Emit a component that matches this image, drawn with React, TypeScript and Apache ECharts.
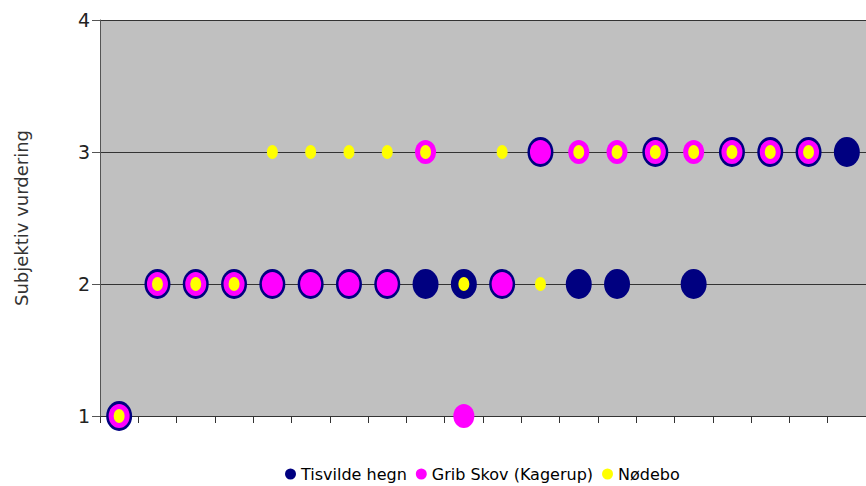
import React, { useEffect, useRef } from "react";
import * as echarts from "echarts";

const categories: string[] = [
  "1", "2", "3", "4", "5", "6", "7", "8", "9", "10",
  "11", "12", "13", "14", "15", "16", "17", "18", "19", "20",
];
const seriesNames: string[] = ["Tisvilde hegn", "Grib Skov (Kagerup)", "Nødebo"];
const tisvilde: (number | string)[] = [1, 2, 2, 2, 2, 2, 2, 2, 2, 2, 2, 3, 2, 2, 3, 2, 3, 3, 3, 3];
const gribSkov: (number | string)[] = [1, 2, 2, 2, 2, 2, 2, 2, 3, 1, 2, 3, 3, 3, 3, 3, 3, 3, 3, "-"];
const nodebo: (number | string)[] = [1, 2, 2, 2, 3, 3, 3, 3, 3, 2, 3, 2, 3, 3, 3, 3, 3, 3, 3, "-"];
const yTicks: number[] = [1, 2, 3, 4];

const ELLIPSE = "path://M0,50 A50,50 0 1,1 100,50 A50,50 0 1,1 0,50 Z";
const FONT = "DejaVu Sans";

export default function App() {
  const ref = useRef<HTMLDivElement>(null);
  useEffect(() => {
    if (!ref.current) return;
    const chart = echarts.init(ref.current, undefined, { renderer: "svg" });
    const colors = ["#000080", "#FF00FF", "#FFFF00"];
    const sizes: [number, number][] = [[26, 30], [21, 24], [11, 14]];
    const datas = [tisvilde, gribSkov, nodebo];
    chart.setOption({
      animation: false,
      textStyle: { fontFamily: FONT },
      grid: { left: 100, right: 0, top: 20, bottom: 70, containLabel: false, show: true, backgroundColor: "#C0C0C0", borderWidth: 0 },
      legend: {
        left: 280,
        top: 461,
        itemWidth: 11,
        itemHeight: 13,
        itemGap: 9,
        icon: ELLIPSE,
        textStyle: { fontFamily: FONT, fontSize: 16, color: "#000" },
        data: seriesNames,
      },
      xAxis: {
        type: "category",
        data: categories,
        boundaryGap: true,
        axisLine: { show: true, lineStyle: { color: "#333", width: 1 } },
        axisTick: { show: true, length: 7, lineStyle: { color: "#333" } },
        axisLabel: { show: false },
        splitLine: { show: false },
      },
      yAxis: {
        type: "value",
        min: yTicks[0],
        max: yTicks[yTicks.length - 1],
        interval: 1,
        name: "Subjektiv vurdering",
        nameLocation: "middle",
        nameRotate: 90,
        nameGap: 70,
        nameTextStyle: { fontFamily: FONT, fontSize: 18, color: "#333" },
        axisLine: { show: true, lineStyle: { color: "#555", width: 1 } },
        axisTick: { show: true, length: 8, lineStyle: { color: "#555" } },
        axisLabel: { fontFamily: FONT, fontSize: 19, color: "#222", margin: 10 },
        splitLine: { show: true, lineStyle: { color: "#333", width: 1 } },
      },
      series: seriesNames.map((name, i) => ({
        name,
        type: "scatter",
        data: datas[i],
        symbol: ELLIPSE,
        symbolSize: sizes[i],
        itemStyle: { color: colors[i], opacity: 1 },
        emphasis: { disabled: true },
      })),
    });
    return () => chart.dispose();
  }, []);
  return <div ref={ref} style={{ width: 866, height: 486, position: "absolute", left: 0, top: 0 }} />;
}
